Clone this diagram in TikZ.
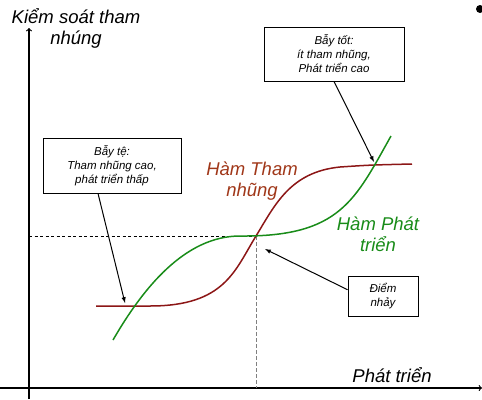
\documentclass[tikz,border=0pt]{standalone}
\usepackage{fontspec}
\setmainfont{Liberation Sans}
\usetikzlibrary{arrows}

\definecolor{curvered}{RGB}{140,22,22}
\definecolor{textred}{RGB}{160,55,25}
\definecolor{curvegreen}{RGB}{25,140,25}

\begin{document}
\begin{tikzpicture}[x=1pt, y=-1pt,
	box/.style = {draw, line width=0.8pt, fill=white, align=center, inner sep=0pt,
	font=\fontsize{11.5}{14}\selectfont\itshape},
	pointer/.style = {line width=1pt, -latex},
	axis/.style = {line width=1.2pt, ->},
	axistext/.style = {font=\fontsize{18.5}{21}\selectfont\itshape, align=center, inner sep=0pt}]

	\useasboundingbox (0,0) rectangle (482,399);

	% axes
	\coordinate (xstart) at (0,388);
	\coordinate (xend) at (482,388);
	\coordinate (ystart) at (29,399);
	\coordinate (yend) at (29,28);
	\draw[axis] (xstart) -- (xend);
	\draw[axis] (ystart) -- (yend);

	\node (ylabel) [axistext, anchor=base] at (76,44) {Kiểm soát tham\\nhúng};
	\node (xlabel) [axistext, anchor=base] at (392,382) {Phát triển};

	% jump point
	\coordinate (jump) at (256,236);
	\coordinate (jumpleft) at (29,236);
	\coordinate (jumpfoot) at (256,388);
	\draw[dashed, dash pattern=on 3pt off 2.5pt, line width=0.8pt] (jumpleft) -- (jump);
	\draw[dashed, dash pattern=on 4pt off 2pt, line width=1pt, gray] (jump) -- (jumpfoot);

	% curves
	\draw[curvered, line width=1.5pt] (96,306) -- (150,306)
		.. controls (225,306) and (235,270) .. (jump)
		.. controls (275,205) and (290,172) .. (340,167)
		.. controls (370,165) .. (412,164);
	\draw[curvegreen, line width=1.5pt] (113,340)
		.. controls (143,288) and (185,236) .. (240,236)
		.. controls (340,237) and (355,200) .. (391,136);

	\node (redtext) [axistext, textred, anchor=base] at (252,196) {Hàm Tham\\nhũng};
	\node (greentext) [axistext, curvegreen, anchor=base] at (378,251) {Hàm Phát\\triển};

	% boxes
	\node (goodbox) [box, minimum width=140pt, minimum height=54pt] at (334,54)
		{Bẫy tốt:\\ít tham nhũng,\\Phát triển cao};
	\node (badbox) [box, minimum width=138pt, minimum height=55pt] at (112,165.5)
		{Bẫy tệ:\\Tham nhũng cao,\\phát triển thấp};
	\node (jumpbox) [box, minimum width=70pt, minimum height=40pt] at (383,296)
		{Điểm\\nhảy};

	\coordinate (goodtip) at (374,162);
	\coordinate (badtip) at (125,303);
	\coordinate (jumptip) at (265,249);
	\draw[pointer] (goodbox.south) -- (goodtip);
	\draw[pointer] ([xshift=-14pt]badbox.south) -- (badtip);
	\draw[pointer] (jumpbox.170) -- (jumptip);

	\fill (480,9) circle (4);
\end{tikzpicture}
\end{document}
